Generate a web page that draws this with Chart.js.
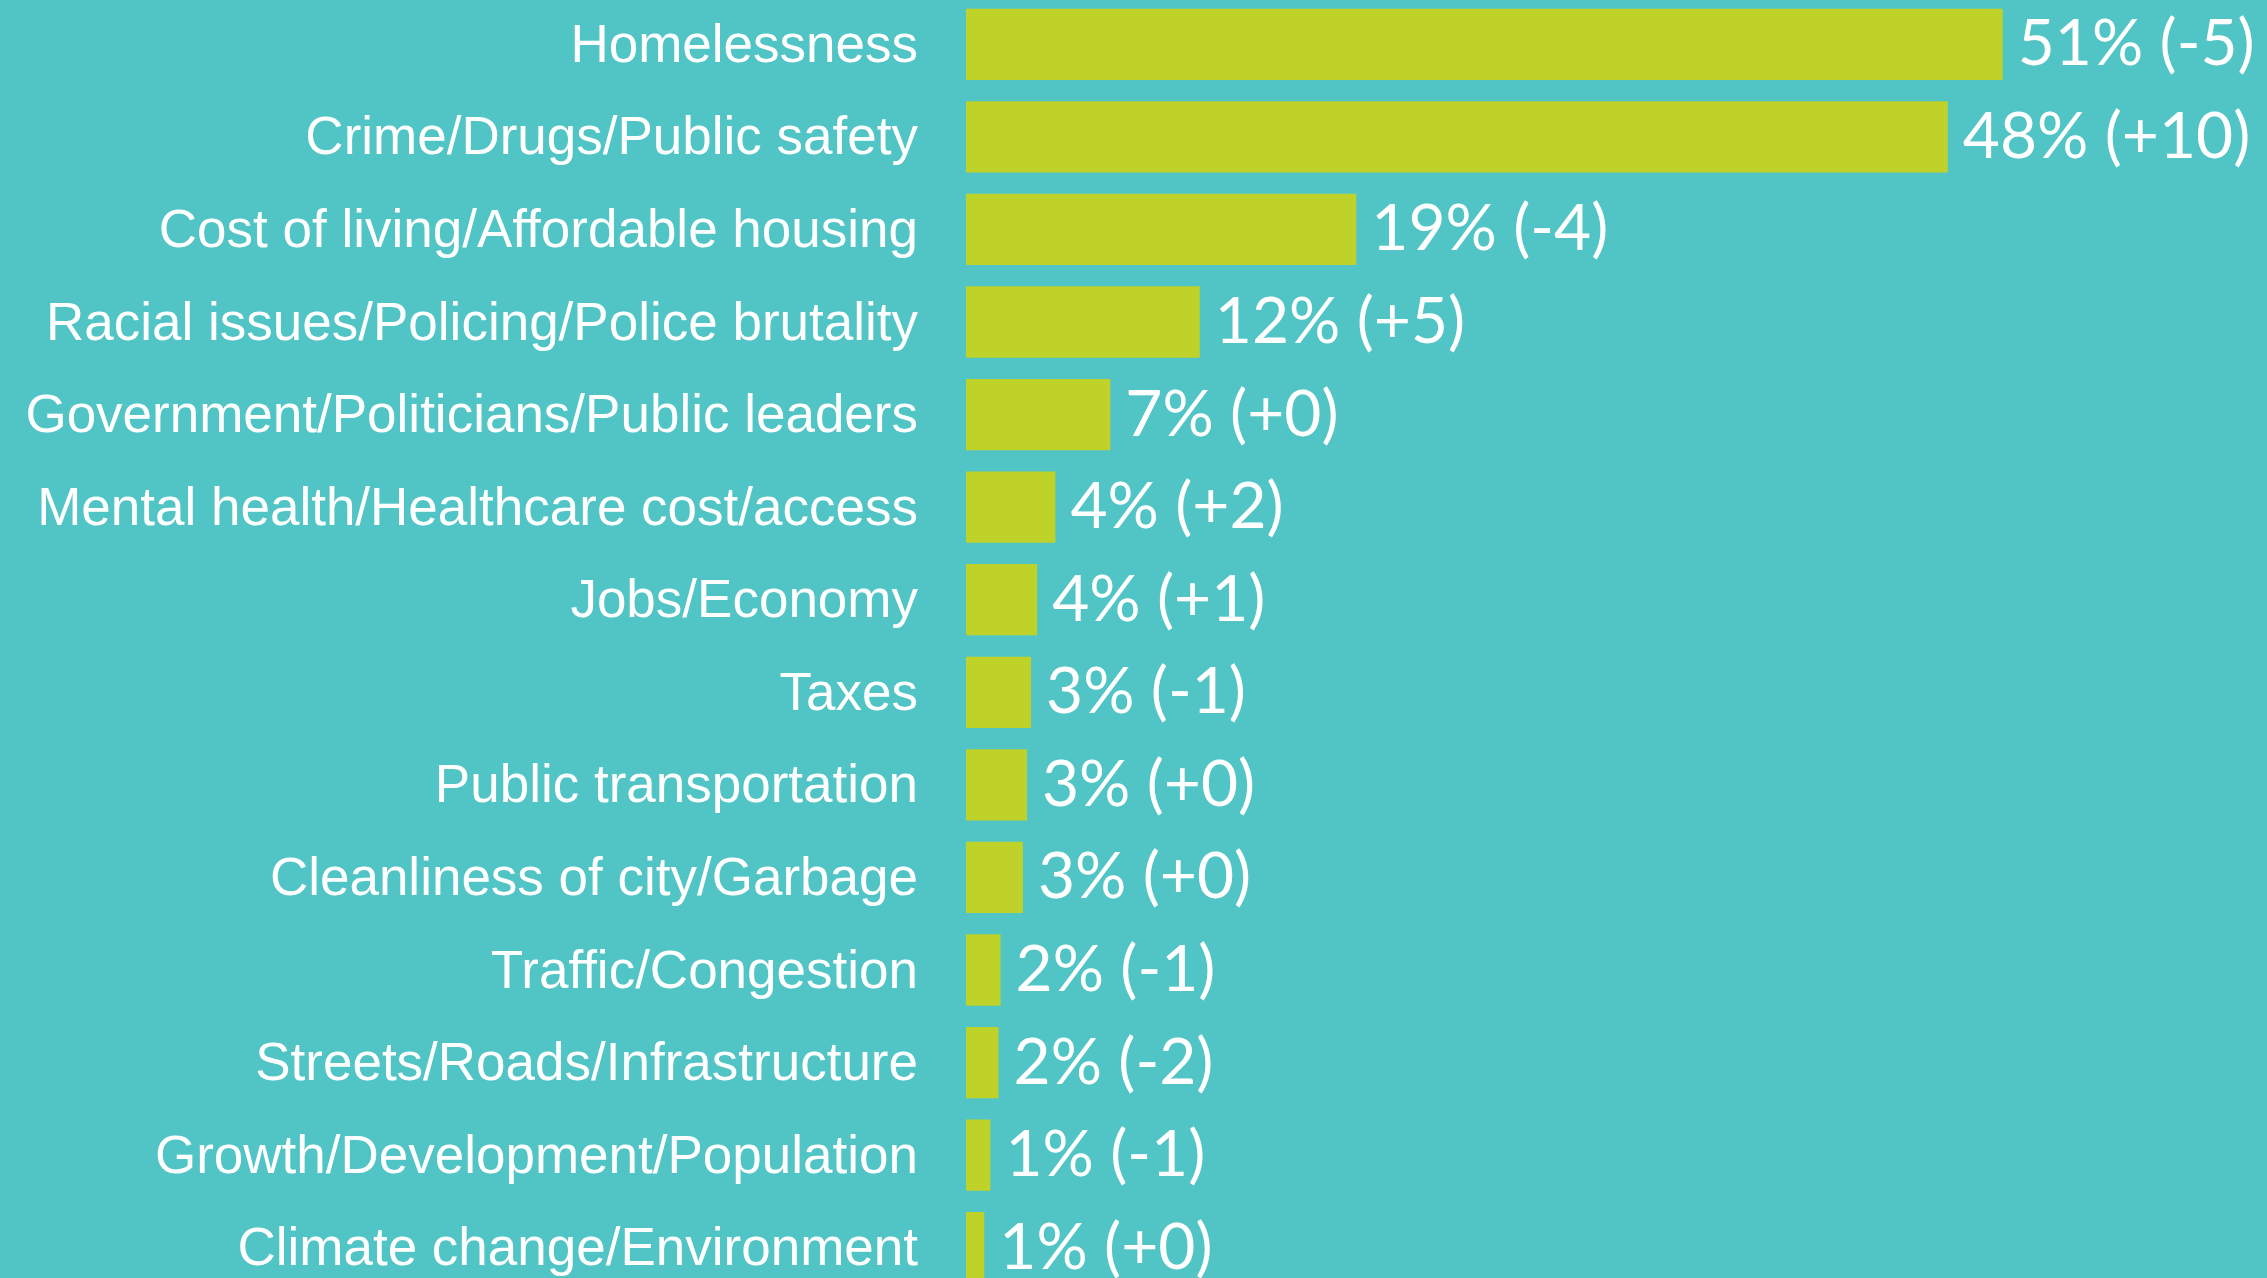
<!DOCTYPE html>
<html>
<head>
<meta charset="utf-8">
<script src="https://cdn.jsdelivr.net/npm/chart.js@4"></script>
<style>
  html, body { margin: 0; padding: 0; background: #51c4c5; overflow: hidden; width: 2267px; height: 1278px; }
  #wrap { position: absolute; left: 0; top: -2px; width: 2267px; height: 1296px; }
</style>
</head>
<body>
<div id="wrap"><canvas id="grafico" width="2267" height="1296"></canvas></div>
<script>
// DATOS
const categorias = [
  "Homelessness",
  "Crime/Drugs/Public safety",
  "Cost of living/Affordable housing",
  "Racial issues/Policing/Police brutality",
  "Government/Politicians/Public leaders",
  "Mental health/Healthcare cost/access",
  "Jobs/Economy",
  "Taxes",
  "Public transportation",
  "Cleanliness of city/Garbage",
  "Traffic/Congestion",
  "Streets/Roads/Infrastructure",
  "Growth/Development/Population",
  "Climate change/Environment"
];
// largo de barra estimado del dibujo
const valores = [51.0, 48.3, 19.2, 11.5, 7.1, 4.4, 3.5, 3.2, 3.0, 2.8, 1.7, 1.6, 1.2, 0.9];
// lo que se lee en las etiquetas
const porcentajes = [51, 48, 19, 12, 7, 4, 4, 3, 3, 3, 2, 2, 1, 1];
const cambios = ["-5", "+10", "-4", "+5", "+0", "+2", "+1", "-1", "+0", "+0", "-1", "-2", "-1", "+0"];

const VERDE = "#bed22a";

// etiquetas al final de cada barra
const etiquetas = {
  id: "etiquetas",
  afterDatasetsDraw(chart) {
    const ctx = chart.ctx;
    const meta = chart.getDatasetMeta(0);
    ctx.save();
    ctx.fillStyle = "#ffffff";
    ctx.font = "64px Lato";
    ctx.textAlign = "left";
    ctx.textBaseline = "alphabetic";
    meta.data.forEach((bar, i) => {
      const texto = porcentajes[i] + "% (" + cambios[i] + ")";
      ctx.fillText(texto, bar.x + 15, bar.y + 21);
    });
    ctx.restore();
  }
};

function dibujar() {
  const ctx = document.getElementById("grafico").getContext("2d");
  new Chart(ctx, {
    type: "bar",
    data: {
      labels: categorias,
      datasets: [{
        data: valores,
        backgroundColor: VERDE,
        borderWidth: 0,
        categoryPercentage: 1,
        barPercentage: 0.77
      }]
    },
    options: {
      indexAxis: "y",
      responsive: false,
      animation: false,
      devicePixelRatio: 1,
      layout: { padding: { left: 0, right: 183, top: 0, bottom: 0 } },
      plugins: {
        legend: { display: false },
        tooltip: { enabled: false }
      },
      scales: {
        x: {
          display: false,
          min: 0,
          max: 55
        },
        y: {
          grid: { display: false, drawTicks: false },
          border: { display: false },
          afterFit(scale) {
            scale.width = 966;
            scale.paddingTop = 0;
            scale.paddingBottom = 0;
          },
          ticks: {
            color: "#ffffff",
            padding: 48,
            labelOffset: 3,
            font: { family: "'Liberation Sans', Arial, sans-serif", size: 53 }
          }
        }
      }
    },
    plugins: [etiquetas]
  });
}

Promise.all([
  document.fonts.load("64px Lato"),
  document.fonts.load("53px 'Liberation Sans'")
]).then(dibujar, dibujar);
</script>
</body>
</html>
